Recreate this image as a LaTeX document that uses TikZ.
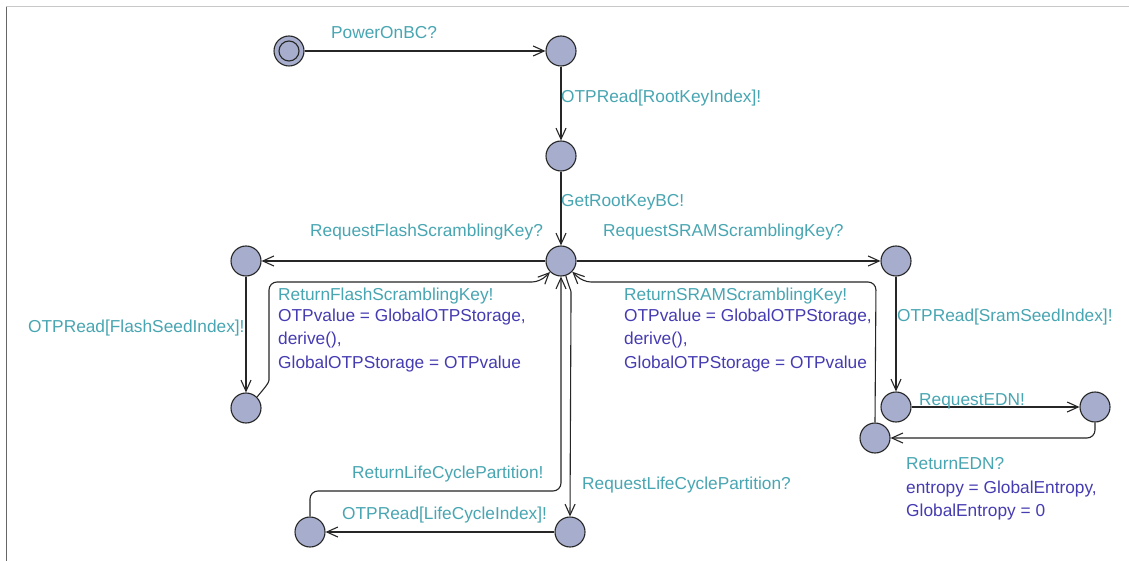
\documentclass[tikz,border=0pt]{standalone}
\usepackage{fontspec}
\setmainfont{Liberation Sans}
\usetikzlibrary{arrows.meta}
\definecolor{stfill}{RGB}{167,173,204}
\definecolor{synccol}{RGB}{72,166,178}
\definecolor{asgcol}{RGB}{70,60,178}
\definecolor{framecol}{RGB}{200,200,200}
\tikzset{
  state/.style={circle, draw=black!85, line width=1.1pt, fill=stfill, minimum size=30pt, inner sep=0pt},
  edge/.style={line width=1.1pt, black!85, -{Straight Barb[length=11pt,width=10pt,line width=1.1pt]}, rounded corners=8pt},
  lbl/.style={anchor=base west, inner sep=0pt, font=\fontsize{17.3}{20}\selectfont},
  sync/.style={lbl, text=synccol},
  asg/.style={lbl, text=asgcol},
}
\begin{document}
\begin{tikzpicture}[x=1pt, y=-1pt]
\useasboundingbox (0,0) rectangle (1129,561);
\fill[white] (0,0) rectangle (1129,561);
% frame of the editor canvas
\draw[framecol, line width=1pt] (6,7) -- (1129,7);
\draw[black!60, line width=1pt] (6,7) -- (6,561);

% locations
\node[state] (init) at (289,51) {};
\draw[black!85, line width=1.1pt] (init.center) circle (10pt);
\node[state] (n1) at (561,51) {};
\node[state] (n2) at (561,156) {};
\node[state] (hub) at (561,261) {};
\node[state] (fl) at (246,261) {};
\node[state] (fl2) at (246,408) {};
\node[state] (sr) at (896,261) {};
\node[state] (sr2) at (896,407) {};
\node[state] (edn) at (1095,407) {};
\node[state] (ret) at (875,438) {};
\node[state] (lca) at (570,532) {};
\node[state] (lcb) at (310,532) {};

% transitions
\draw[edge] (init) -- (n1);
\draw[edge] (n1) -- (n2);
\draw[edge] (n2) -- (hub);
\draw[edge] (hub) -- (fl);
\draw[edge] (fl) -- (fl2);
\draw[edge] (fl2.45) to[out=50,in=-90] (269,372) -- (269,282) -- (540,282) -- (hub);
\draw[edge] (hub) -- (sr);
\draw[edge] (sr) -- (sr2);
\draw[edge] (sr2) -- (edn);
\draw[edge] (edn.south) -- (1095,438) -- (ret);
\draw[edge] (ret.north) -- (876,282) -- (583,282) -- (hub);
\draw[edge] (hub.-72) to[out=-75,in=90] (571,300) -- (lca.north);
\draw[edge] (lca) -- (lcb);
\draw[edge] (lcb.north) -- (310,491) -- (561,491) -- (hub.south);

% labels
\node[sync] (l1) at (331,39) {PowerOnBC?};
\node[sync] (l2) at (561,103) {OTPRead[RootKeyIndex]!};
\node[sync] (l3) at (561,207) {GetRootKeyBC!};
\node[sync] (l4) at (310,237) {RequestFlashScramblingKey?};
\node[sync] (l5) at (603,237) {RequestSRAMScramblingKey?};
\node[sync] (l6) at (28,332) {OTPRead[FlashSeedIndex]!};
\node[sync] (l7) at (278,300) {ReturnFlashScramblingKey!};
\node[asg] (a71) at (278,321) {OTPvalue = GlobalOTPStorage,};
\node[asg] (a72) at (278,344) {derive(),};
\node[asg] (a73) at (278,368) {GlobalOTPStorage = OTPvalue};
\node[sync] (l8) at (624,300) {ReturnSRAMScramblingKey!};
\node[asg] (a81) at (624,321) {OTPvalue = GlobalOTPStorage,};
\node[asg] (a82) at (624,344) {derive(),};
\node[asg] (a83) at (624,368) {GlobalOTPStorage = OTPvalue};
\node[sync] (l9) at (897,321) {OTPRead[SramSeedIndex]!};
\node[sync] (l10) at (919,405) {RequestEDN!};
\node[sync] (l11) at (906,469) {ReturnEDN?};
\node[asg] (a111) at (906,493) {entropy = GlobalEntropy,};
\node[asg] (a112) at (906,516) {GlobalEntropy = 0};
\node[sync] (l12) at (352,478) {ReturnLifeCyclePartition!};
\node[sync] (l13) at (582,489) {RequestLifeCyclePartition?};
\node[sync] (l14) at (342,519) {OTPRead[LifeCycleIndex]!};
\end{tikzpicture}
\end{document}
